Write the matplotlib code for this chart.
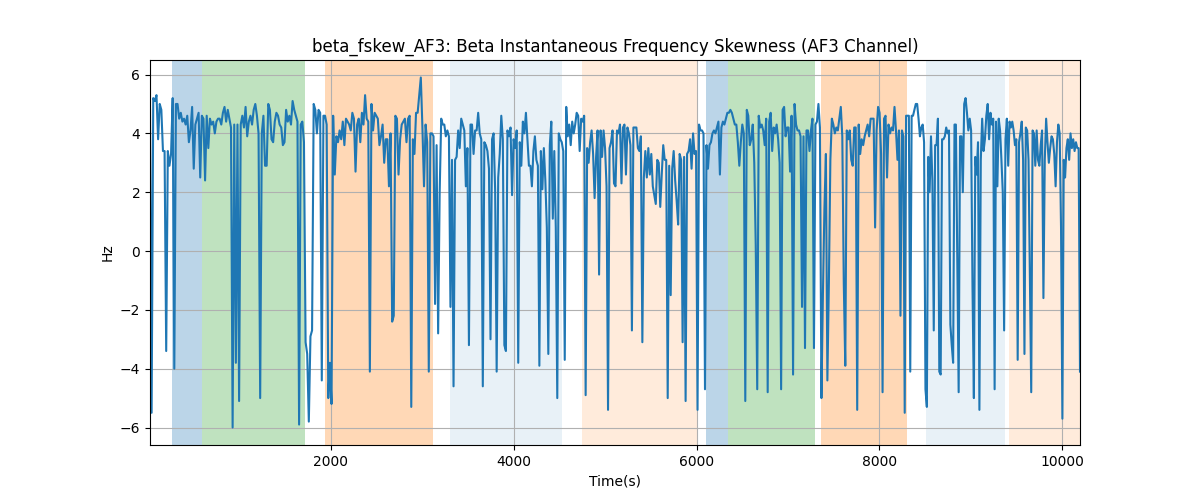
import numpy as np
import matplotlib
matplotlib.use("Agg")
import matplotlib.pyplot as plt

# Boundaries (in seconds) of the reading windows; values inside each window are evenly spaced
window_edges = [20, 1048, 2077, 3105, 4133, 5162, 6190, 7219, 8247, 9276, 10195]

w1 = [4.8, -5.5, 5.2, 5.1, 5.3, 3.8, 5.0, 4.8, 3.4, 3.4, -3.4, 3.4, 2.9, 3.3, 5.2, -4.0,
      5.0, 5.0, 4.5, 4.7, 4.4, 4.5, 4.3, 4.6, 3.7, 4.1, 4.9, 2.8, 4.3, 4.5, 4.7, 2.5, 4.6,
      4.5, 2.4, 4.6, 3.5, 4.5, 4.3, 4.4, 4.0, 4.4, 4.5, 4.5, 4.3, 4.7, 4.9, 4.4, 4.8, 4.5,
      4.2, -6.0, 4.3, -3.8, 4.3, -5.1, 4.3, 4.6]
w2 = [4.2, 4.9, 3.9, 4.4, 4.6, 4.3, 4.8, 5.0, 4.6, 4.0, -5.0, 4.0, 4.6, 2.9, 2.9, 5.0,
      4.8, 3.8, 3.7, 4.4, 4.7, 4.6, 4.3, 4.2, 3.6, 3.7, 4.8, 4.4, 4.6, 4.3, 5.1, 4.8, 4.6,
      4.4, -5.9, 4.3, 4.4, 3.7, -3.1, -3.5, -5.8, -2.9, -2.7, 5.0, 4.8, 4.0, 4.8, 4.7,
      -4.4, 4.6, 4.6, 4.3, -5.0, -3.8, -5.2, 4.6, 2.6, 3.9]
w3 = [3.7, 4.1, 3.8, 4.4, 3.6, 4.5, 4.4, 4.3, 4.1, 4.7, 4.5, 2.7, 4.3, 4.5, 3.7, 4.7,
      4.3, 5.3, 4.5, 4.4, -4.1, 5.0, 4.1, 4.7, 4.6, 4.5, 3.6, 3.9, 4.3, 3.0, 3.8, 3.8, 2.2,
      4.0, -2.4, -2.2, 4.6, 4.5, 2.6, 3.8, 4.3, 4.4, 4.5, 3.7, 4.5, 4.6, -5.3, 3.8, 3.3,
      4.7, 4.7, 5.3, 5.9, 4.2, 2.2, 4.3, 3.7, -4.1, 4.0]
w4 = [4.0, 3.9, -1.8, 3.6, -2.8, 2.0, 4.5, 4.3, 4.3, 3.9, 4.1, 3.9, -1.9, 3.1, -4.6, 3.1,
      3.2, 4.1, 3.5, 4.5, 4.3, 4.1, 2.2, 3.5, -3.2, 4.3, 4.3, 3.3, 4.1, 4.1, 4.7, 4.0, 3.8,
      -4.6, 3.7, 3.6, 3.4, 2.8, -3.0, 3.8, 4.0, 2.1, -4.1, 2.5, 3.3, 4.6, 3.8, -3.2, -3.4,
      4.1, 3.9, 4.2, 1.9, 3.8, 3.5, 4.1, -3.8, 3.7, 2.9, 4.4, 4.0]
w5 = [4.7, 3.8, 2.9, 2.9, 2.2, 3.4, 3.9, 3.1, 2.9, -3.9, 3.4, 2.1, 3.5, 2.4, 0.8, -3.5,
      3.6, 4.4, 1.1, 3.4, 0.8, -5.0, 4.0, 3.8, 3.7, 3.4, -3.7, 4.9, 3.9, 4.3, 3.6, 4.4, 4.0,
      4.3, 4.7, 4.6, 3.4, 4.5, 4.4, 4.6, -4.9, 3.5, 3.0, 3.7, 4.1, 3.3, 1.8, 3.2, 4.1, -0.8,
      4.1, 3.2, 4.1, 3.5, 2.2, -5.4, 3.5, 3.7, 4.1, 2.3, 2.2, 4.1, 4.0]
w6 = [4.3, 2.3, 4.2, 4.3, 2.6, 4.2, 4.0, 3.6, -2.7, 4.2, 4.2, 4.2, 3.5, 3.4, 3.9, -3.1,
      2.5, 3.4, 2.5, 3.5, 2.6, 3.3, 2.2, 1.9, 1.6, 3.1, 3.0, 1.5, 2.6, 3.6, 3.1, 3.1, -5.0,
      2.9, -1.5, 2.8, 3.4, 2.4, 1.7, 0.9, 3.3, 3.1, -3.1, 3.2, -5.1, 3.3, 3.4, 3.8, 2.8,
      4.0, 3.3, 3.4, -5.4, 4.3, 4.1, 4.1, 4.0, -4.7, 3.6, 2.8, 3.6, 3.7, 4.0]
w7 = [4.1, 4.0, 4.2, 4.4, 2.6, 4.2, 4.4, 4.3, 4.5, 4.7, 4.7, 4.8, 4.7, 4.5, 4.3, 4.3,
      3.7, 2.9, 3.7, 4.3, 4.0, -5.1, 4.8, 4.6, 3.6, 3.8, 4.3, 3.0, 0.2, -4.7, 4.6, 4.2, 4.3,
      4.1, 3.6, 4.5, -4.8, 4.4, 4.7, 3.4, 4.2, 4.0, 4.3, 3.8, 3.0, -4.7, 4.8, 4.9, 3.9,
      4.2, 4.2, 2.7, 4.6, -4.2, 5.0, 4.3, 4.1, 4.1, 3.9, -1.9, 3.9, -3.3, 4.1]
w8 = [4.1, 3.4, 4.1, 4.5, -3.3, 4.3, 4.4, 5.0, 4.2, -5.0, -1.5, 1.4, 3.3, -4.4, -1.1,
      3.1, 4.5, 4.3, 4.0, 4.2, 4.1, 4.5, 4.9, 3.9, -1.1, -3.9, 4.1, 3.8, 4.1, 3.1, 2.9, 4.2,
      4.2, -5.4, 4.3, 3.3, 3.8, 3.6, 3.9, 4.1, 4.3, 3.9, 4.5, 4.5, 4.5, 0.8, 4.1, 4.9, 4.7,
      3.3, -4.8, 4.5, 4.6, 2.5, 4.3, 4.0, 4.2, 4.1, 4.9, 4.1, 3.1, 4.1, -2.2]
w9 = [4.1, 3.9, -5.5, 4.6, 4.6, 4.6, -4.1, 4.6, 4.6, 4.8, 5.0, 5.0, 4.5, 3.9, 4.2, 4.3,
      3.7, -4.7, -5.3, 3.2, 2.0, 3.9, 2.4, -2.7, 3.6, 3.6, 4.5, -4.1, -4.2, 3.8, 3.8, 3.9,
      4.2, 4.0, 4.1, -2.5, -3.2, -3.8, 4.3, 4.3, -0.3, -4.8, 3.9, 3.9, 2.0, 5.0, 5.2, 4.7,
      4.1, 4.5, 4.1, -1.2, -5.0, 3.2, 2.6, 3.7, -5.4, 3.1, 4.5, 3.4, 3.8, 4.6, 5.0, 3.8,
      4.7, 4.3, 4.5, -4.7]
w10 = [4.4, 2.2, 4.5, 4.1, 3.1, 2.0, -2.7, 3.8, 4.5, 2.9, 4.4, 4.2, 4.4, 4.1, 3.6, 3.8,
       -3.7, 3.7, 4.0, 4.4, 3.1, -3.5, 4.2, 4.1, 3.1, -0.9, -4.8, 4.1, 4.0, 2.9, 4.1, 3.1,
       2.9, 3.6, 4.1, -1.6, 3.1, 4.5, 3.7, 3.0, 3.5, 3.9, 3.8, 3.3, 2.2, 3.7, 4.3, 4.0, 0.8,
       -5.7, 3.1, 2.5, 3.5, 3.8, 3.1, 4.0, 3.5, 3.8, 3.4, 3.7, 3.5, 3.5, -4.1]

windows = [w1, w2, w3, w4, w5, w6, w7, w8, w9, w10]

# Shaded intervals: start, end, colour, alpha
span_starts = [260, 585, 1934, 3302, 4750, 6106, 6347, 7361, 8510, 9418]
span_ends = [585, 1712, 3112, 4524, 6001, 6347, 7299, 8298, 9374, 10300]
span_colors = ['tab:blue', 'tab:green', 'tab:orange', 'tab:blue', 'tab:orange',
               'tab:blue', 'tab:green', 'tab:orange', 'tab:blue', 'tab:orange']
span_alphas = [0.3, 0.3, 0.3, 0.1, 0.15, 0.3, 0.3, 0.3, 0.1, 0.15]

times = []
values = []
n_win = len(windows)
for i, w in enumerate(windows):
    last = (i == n_win - 1)
    t = np.linspace(window_edges[i], window_edges[i + 1], len(w), endpoint=last)
    times.extend(t)
    values.extend(w)
times = np.array(times)
values = np.array(values)

fig, ax = plt.subplots(figsize=(12, 5), dpi=100)
for s, e, c, a in zip(span_starts, span_ends, span_colors, span_alphas):
    ax.axvspan(s, e, color=c, alpha=a, linewidth=0)
ax.plot(times, values, color='tab:blue', linewidth=1.5)
ax.set_xlim(times[0], times[-1])
ax.grid(True)
ax.set_title("beta_fskew_AF3: Beta Instantaneous Frequency Skewness (AF3 Channel)")
ax.set_xlabel("Time(s)")
ax.set_ylabel("Hz")
fig.savefig("out.png", dpi=100)
